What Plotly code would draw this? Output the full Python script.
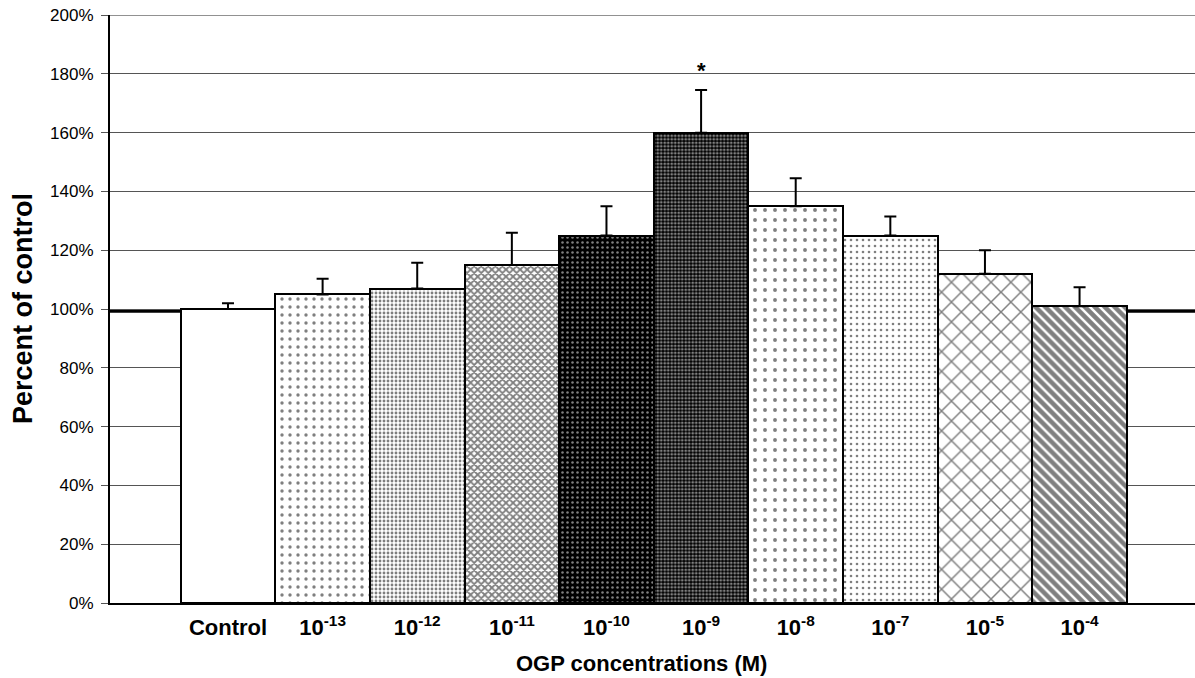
import plotly.graph_objects as go

# ---- data ----
categories = ["Control", "10<sup>-13</sup>", "10<sup>-12</sup>", "10<sup>-11</sup>",
              "10<sup>-10</sup>", "10<sup>-9</sup>", "10<sup>-8</sup>", "10<sup>-7</sup>",
              "10<sup>-5</sup>", "10<sup>-4</sup>"]
percent = [100, 105, 107, 115, 125, 160, 135, 125, 112, 101]
error_up = [2, 5.3, 8.8, 11, 10, 14.5, 9.5, 6.5, 8, 6.4]
significance = ["", "", "", "", "", "*", "", "", "", ""]
control_line = 99.3
y_ticks = [0, 20, 40, 60, 80, 100, 120, 140, 160, 180, 200]
y_tick_labels = [f"{v}%" for v in y_ticks]

# ---- styles (one per bar) ----
patterns = [
    dict(shape="", bgcolor="white", fgcolor="black"),
    dict(shape=".", size=8, solidity=0.14, bgcolor="white", fgcolor="black"),
    dict(shape=".", size=4, solidity=0.4, bgcolor="white", fgcolor="black"),
    dict(shape="x", size=5, solidity=0.6, bgcolor="white", fgcolor="black"),
    dict(shape=".", size=5, solidity=0.2, bgcolor="black", fgcolor="white"),
    dict(shape=".", size=3.5, solidity=0.5, bgcolor="black", fgcolor="white"),
    dict(shape=".", size=10, solidity=0.12, bgcolor="white", fgcolor="black"),
    dict(shape=".", size=6, solidity=0.15, bgcolor="white", fgcolor="black"),
    dict(shape="x", size=14, solidity=0.2, bgcolor="white", fgcolor="black"),
    dict(shape="\\", size=7, solidity=0.65, bgcolor="white", fgcolor="black"),
]

FONT = "Liberation Sans, Arial, Helvetica, sans-serif"

fig = go.Figure()
for i, cat in enumerate(categories):
    fig.add_trace(go.Bar(
        x=[cat], y=[percent[i]],
        width=1.0,
        marker=dict(color=patterns[i]["bgcolor"], pattern=patterns[i],
                    line=dict(color="black", width=2)),
        error_y=dict(type="data", symmetric=False, array=[error_up[i]], arrayminus=[0],
                     color="black", thickness=2, width=6),
        showlegend=False,
    ))

for i, s in enumerate(significance):
    if s:
        fig.add_annotation(x=categories[i], y=percent[i] + error_up[i], text=f"<b>{s}</b>",
                           showarrow=False, yanchor="bottom", yshift=5,
                           font=dict(family=FONT, size=22, color="black"))

fig.add_shape(type="line", xref="paper", x0=0, x1=1, yref="y", y0=control_line, y1=control_line,
              line=dict(color="black", width=3), layer="below")
# top gridline (at the edge of the range)
fig.add_shape(type="line", xref="paper", x0=0, x1=1, yref="y", y0=y_ticks[-1], y1=y_ticks[-1],
              line=dict(color="#555555", width=1), layer="below")

# axis titles as annotations for precise placement
fig.add_annotation(xref="paper", yref="paper", x=0, y=0.5, xshift=-87, xanchor="center",
                   yanchor="middle", textangle=-90, showarrow=False,
                   text="<b>Percent of control</b>",
                   font=dict(family=FONT, size=27, color="black"))
fig.add_annotation(xref="paper", yref="paper", x=0.49, y=0, yshift=-60, xanchor="center",
                   yanchor="middle", showarrow=False,
                   text="<b>OGP concentrations (M)</b>",
                   font=dict(family=FONT, size=22, color="black"))

fig.update_layout(
    width=1195, height=678,
    margin=dict(l=110, r=0, t=15, b=75),
    plot_bgcolor="white", paper_bgcolor="white",
    bargap=0,
    font=dict(family=FONT, color="black"),
    xaxis=dict(
        type="category", categoryorder="array", categoryarray=categories,
        range=[-1.247, 10.22], automargin=False,
        showline=True, linecolor="black", linewidth=2,
        showgrid=False, ticks="", ticklabelstandoff=4,
        tickfont=dict(family=FONT, size=22, color="black", weight="bold"),
    ),
    yaxis=dict(
        range=[0, 200.05], tickvals=y_ticks, ticktext=y_tick_labels, automargin=False,
        showline=True, linecolor="black", linewidth=2,
        showgrid=True, gridcolor="#555555", gridwidth=1,
        ticks="outside", ticklen=7, tickcolor="#555555", ticklabelstandoff=4,
        ticklabeloverflow="allow",
        tickfont=dict(family=FONT, size=17, color="black"),
        zeroline=False,
    ),
)

# remove the default page margin so the figure fills the window exactly
fig.write_html("out.html", config={"displayModeBar": False},
               post_script="document.body.style.margin='0px';")
